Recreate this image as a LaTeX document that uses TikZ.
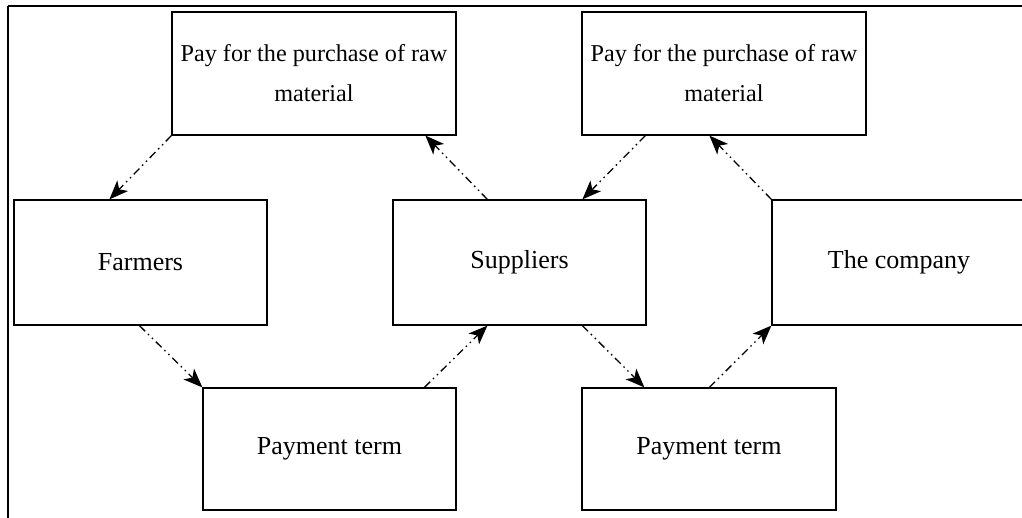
\documentclass[tikz,border=0pt]{standalone}
\usepackage{fontspec}
\setmainfont{Liberation Serif}
\usetikzlibrary{arrows.meta,calc}
\begin{document}
\begin{tikzpicture}[x=1pt,y=-1pt,
  box/.style={draw,line width=1.2pt,inner sep=0pt,align=center,font=\fontsize{24.2}{40}\selectfont},
  bigbox/.style={box,font=\fontsize{26}{40}\selectfont},
  flow/.style={line width=1.3pt,dash pattern=on 8pt off 4pt on 1.5pt off 4pt on 1.5pt off 4pt,-{Stealth[length=19pt,width=15pt,inset=5pt]}}]
\useasboundingbox (0,0) rectangle (1022,518);
\begin{scope}
\clip (0,0) rectangle (1022,518);
\draw[line width=2.6pt] (8,6) -- (1024,6);
\draw[line width=1.4pt] (8,6) -- (8,520);
\node[box,minimum width=284pt,minimum height=123pt] (tl) at (314,73.5) {Pay for the purchase of raw\\material};
\node[box,minimum width=284pt,minimum height=123pt] (tr) at (724,73.5) {Pay for the purchase of raw\\material};
\node[bigbox,minimum width=253pt,minimum height=125pt] (farm) at (140.5,262.5) {Farmers};
\node[bigbox,minimum width=253pt,minimum height=125pt] (sup) at (519.5,262.5) {Suppliers};
\node[bigbox,minimum width=254pt,minimum height=125pt] (comp) at (899,262.5) {The company};
\node[bigbox,minimum width=253pt,minimum height=122pt] (pl) at (329.5,449) {Payment term};
\node[bigbox,minimum width=254pt,minimum height=122pt] (pr) at (709,449) {Payment term};
\draw[flow] (tl.south west) -- ($(farm.north west)+(96,0)$);
\draw[flow] ($(sup.north west)+(95,0)$) -- ($(tl.south west)+(254,0)$);
\draw[flow] ($(tr.south west)+(64,0)$) -- ($(sup.north west)+(190,0)$);
\draw[flow] (comp.north west) -- ($(tr.south west)+(128,0)$);
\draw[flow] ($(farm.south west)+(126,0)$) -- (pl.north west);
\draw[flow] ($(pl.north west)+(222,0)$) -- ($(sup.south west)+(95,0)$);
\draw[flow] ($(sup.south west)+(190,0)$) -- ($(pr.north west)+(63,0)$);
\draw[flow] ($(pr.north west)+(128,0)$) -- (comp.south west);
\end{scope}
\end{tikzpicture}
\end{document}
